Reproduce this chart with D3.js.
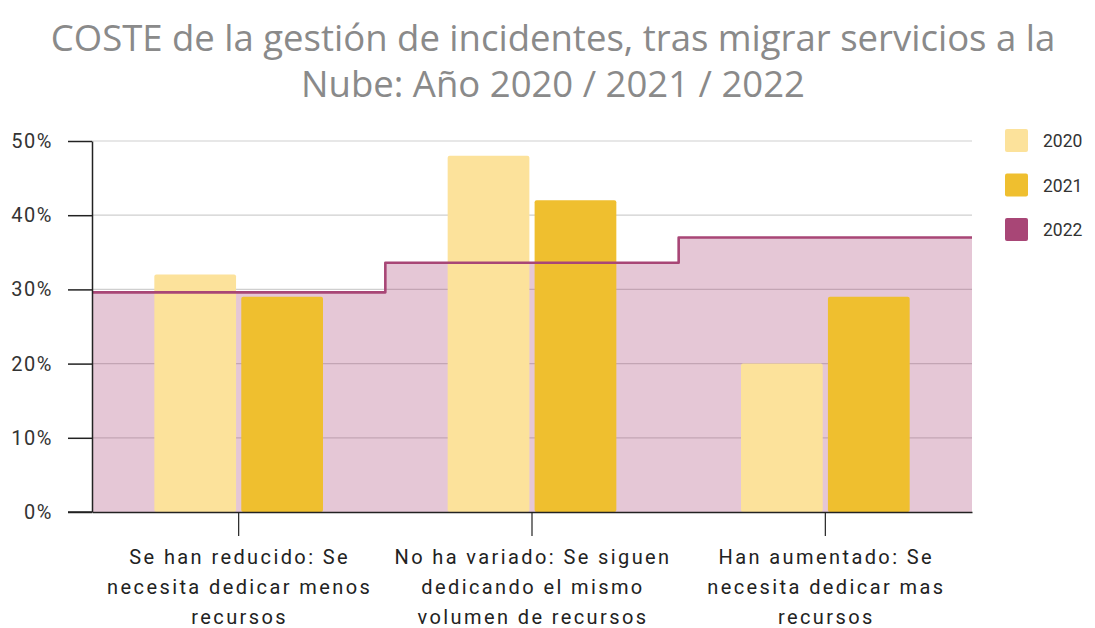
<!DOCTYPE html>
<html><head><meta charset="utf-8">
<script src="https://cdn.jsdelivr.net/npm/d3@7"></script>
<style>body{margin:0;background:#fff}svg{display:block}</style>
</head><body>
<svg id="c" width="1095" height="628"></svg>
<script>
const titleLines = ["COSTE de la gestión de incidentes, tras migrar servicios a la", "Nube: Año 2020 / 2021 / 2022"];
const categories = [
  ["Se han reducido: Se", "necesita dedicar menos", "recursos"],
  ["No ha variado: Se siguen", "dedicando el mismo", "volumen de recursos"],
  ["Han aumentado: Se", "necesita dedicar mas", "recursos"]
];
const seriesNames = ["2020", "2021", "2022"];
const values2020 = [32, 48, 20];
const values2021 = [29, 42, 29];
const values2022 = [29.6, 33.6, 37];
const yTicks = [0, 10, 20, 30, 40, 50];
const colors = ["#fce29b", "#efbf2f", "#a84676"];

const svg = d3.select("#c");
const L = 92, R = 972, T = 141, B = 512;
const catIdx = categories.map((d, i) => i);
const x = d3.scaleBand().domain(catIdx).range([L, R]).padding(0);
const y = d3.scaleLinear().domain([0, 50]).range([B, T]);

// title
svg.append("g").selectAll("text").data(titleLines).join("text")
  .attr("x", 553).attr("y", (d, i) => 51 + i * 46)
  .attr("text-anchor", "middle").attr("fill", "#8a8a8a")
  .style("font-family", "'Open Sans', sans-serif").style("font-size", "36.5px")
  .text(d => d);

// grid
svg.append("g").selectAll("line").data(yTicks.filter(t => t > 0)).join("line")
  .attr("x1", L).attr("x2", R).attr("y1", d => y(d)).attr("y2", d => y(d))
  .attr("stroke", "#cfcfcf").attr("stroke-width", 1.2);

// 2022 step area
const stepPts = catIdx.map(i => [x(i), values2022[i]]);
stepPts.push([R, values2022[values2022.length - 1]]);
const area = d3.area().x(d => d[0]).y0(B).y1(d => y(d[1])).curve(d3.curveStepAfter);
svg.append("path").datum(stepPts).attr("d", area).attr("fill", "rgba(168,70,120,0.3)");

// bars
const inner = d3.scaleBand().domain([0, 1]).range([0, x.bandwidth() * 0.575]).paddingInner(0.06);
const off = x.bandwidth() * (1 - 0.575) / 2;
[values2020, values2021].forEach((vals, s) => {
  svg.append("g").selectAll("rect").data(vals).join("rect")
    .attr("x", (d, i) => x(i) + off + inner(s))
    .attr("width", inner.bandwidth())
    .attr("y", d => y(d)).attr("height", d => B - y(d))
    .attr("rx", 2).attr("fill", colors[s]);
});

// 2022 line
const line = d3.line().x(d => d[0]).y(d => y(d[1])).curve(d3.curveStepAfter);
svg.append("path").datum(stepPts).attr("d", line).attr("fill", "none")
  .attr("stroke", colors[2]).attr("stroke-width", 2.6).attr("stroke-linejoin", "round");

// y axis
const yAxis = svg.append("g").attr("transform", `translate(${L},0)`)
  .call(d3.axisLeft(y).tickValues(yTicks).tickFormat(d => d + "%").tickSize(24).tickSizeOuter(0));
yAxis.select(".domain").attr("stroke", "#222").attr("stroke-width", 1.5);
yAxis.selectAll(".tick line").attr("stroke", "#222").attr("stroke-width", 1.5);
yAxis.selectAll(".tick text").attr("x", -39).attr("fill", "#333")
  .style("font-family", "Roboto, sans-serif").style("font-size", "20px")
  .style("letter-spacing", "1.5px");

// x axis
const xAxis = svg.append("g").attr("transform", `translate(0,${B})`)
  .call(d3.axisBottom(x).tickSize(24).tickSizeOuter(0).tickFormat(""));
xAxis.select(".domain").attr("stroke", "#222").attr("stroke-width", 1.5);
xAxis.selectAll(".tick line").attr("stroke", "#222").attr("stroke-width", 1.2);
svg.append("line").attr("x1", L - 24).attr("x2", L).attr("y1", B).attr("y2", B).attr("stroke", "#222").attr("stroke-width", 1.5);

const lab = svg.append("g").selectAll("text").data(categories).join("text")
  .attr("text-anchor", "middle").attr("fill", "#222")
  .style("font-family", "Roboto, sans-serif").style("font-size", "20px")
  .style("letter-spacing", "2.4px");
lab.each(function(d, i) {
  d3.select(this).selectAll("tspan").data(d).join("tspan")
    .attr("x", x(i) + x.bandwidth() / 2 + 1).attr("y", (t, j) => 564 + j * 30).text(t => t);
});

// legend
const leg = svg.append("g").selectAll("g").data(seriesNames).join("g")
  .attr("transform", (d, i) => `translate(1005,${129 + i * 44.5})`);
leg.append("rect").attr("width", 23).attr("height", 23).attr("rx", 2).attr("fill", (d, i) => colors[i]);
leg.append("text").attr("x", 38).attr("y", 18).attr("fill", "#333")
  .style("font-family", "Roboto, sans-serif").style("font-size", "17.5px")
  .text(d => d);
</script>
</body></html>
